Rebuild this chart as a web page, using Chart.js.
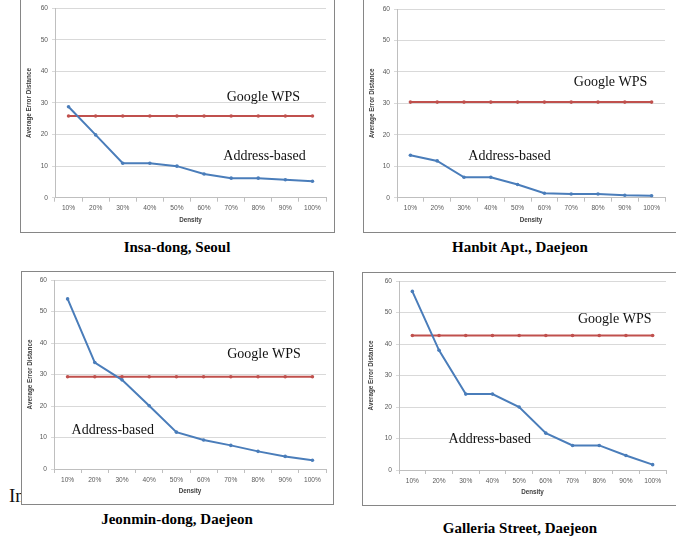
<!doctype html>
<html lang="en">
<head>
<meta charset="utf-8">
<title>Average Error Distance by Density</title>
<script src="https://cdn.jsdelivr.net/npm/chart.js@4.4.1/dist/chart.umd.min.js"></script>
<style>
  * { box-sizing: content-box; }
  html, body { margin: 0; padding: 0; background: #fff; }
  body { position: relative; width: 676px; height: 536px; overflow: hidden; }
  .frame { position: absolute; border: 1px solid #868686; background: #fff; z-index: 2; }
  .frame canvas { position: absolute; left: 0; top: 0; }
  .caption {
    position: absolute;
    width: 300px;
    margin-left: -150px;
    text-align: center;
    font: bold 15px 'Liberation Serif', 'Times New Roman', serif;
    color: #000;
    line-height: 18px;
    margin-top: -9px;
  }
  .stray {
    position: absolute;
    left: 9px;
    top: 485px;
    font: 19px 'Liberation Serif', 'Times New Roman', serif;
    line-height: 22px;
    color: #111;
    z-index: 1;
  }
</style>
</head>
<body>
<div class="stray">In</div>
<div class="caption" style="left:177px; top:247px;">Insa-dong, Seoul</div>
<div class="caption" style="left:520px; top:247px;">Hanbit Apt., Daejeon</div>
<div class="caption" style="left:177px; top:519px;">Jeonmin-dong, Daejeon</div>
<div class="caption" style="left:520px; top:528px;">Galleria Street, Daejeon</div>
<script>
// values
const densityLabels = ['10%', '20%', '30%', '40%', '50%', '60%', '70%', '80%', '90%', '100%'];
const yTicks = [0, 10, 20, 30, 40, 50, 60];

const insaAddress = [28.8, 19.9, 10.9, 10.9, 10.0, 7.5, 6.2, 6.2, 5.7, 5.2];
const insaWps = [25.9, 25.9, 25.9, 25.9, 25.9, 25.9, 25.9, 25.9, 25.9, 25.9];

const hanbitAddress = [13.5, 11.7, 6.5, 6.5, 4.2, 1.4, 1.2, 1.2, 0.8, 0.6];
const hanbitWps = [30.4, 30.4, 30.4, 30.4, 30.4, 30.4, 30.4, 30.4, 30.4, 30.4];

const jeonminAddress = [54.0, 33.8, 28.3, 20.1, 11.7, 9.2, 7.5, 5.6, 4.0, 2.8];
const jeonminWps = [29.3, 29.3, 29.3, 29.3, 29.3, 29.3, 29.3, 29.3, 29.3, 29.3];

const galleriaAddress = [56.7, 38.0, 24.1, 24.1, 20.0, 11.7, 7.8, 7.8, 4.6, 1.7];
const galleriaWps = [42.7, 42.7, 42.7, 42.7, 42.7, 42.7, 42.7, 42.7, 42.7, 42.7];

const BLUE = '#4a7dba';
const RED = '#c0504d';
const tickFont = { family: "'Liberation Sans', Arial, sans-serif", size: 6.6 };
const titleFont = { family: "'Liberation Sans', Arial, sans-serif", size: 6.3, weight: 'bold' };

function makePanel(p) {
  const [fl, ft, fr, fb] = p.frame;
  const w = fr - fl - 1;
  const h = fb - ft - 1;
  const frame = document.createElement('div');
  frame.className = 'frame';
  frame.style.left = fl + 'px';
  frame.style.top = ft + 'px';
  frame.style.width = w + 'px';
  frame.style.height = h + 'px';
  const canvas = document.createElement('canvas');
  canvas.width = w;
  canvas.height = h;
  canvas.style.width = w + 'px';
  canvas.style.height = h + 'px';
  frame.appendChild(canvas);
  document.body.appendChild(frame);

  const ox = fl + 1, oy = ft + 1;
  const [pl, pt, pr, pb] = p.plot;
  const yw = pl - ox;
  const xh = 26;

  // in-plot series names, placed in data coordinates
  const seriesNames = {
    id: 'seriesNames',
    afterDatasetsDraw(chart) {
      const ctx = chart.ctx;
      const xs = chart.scales.x, ys = chart.scales.y;
      ctx.save();
      ctx.font = "14px 'Liberation Serif', 'Times New Roman', serif";
      ctx.fillStyle = '#111';
      ctx.textAlign = 'center';
      ctx.textBaseline = 'middle';
      p.names.forEach(function (n) {
        ctx.fillText(n.text, xs.getPixelForValue(n.at[0]), ys.getPixelForValue(n.at[1]));
      });
      ctx.restore();
    },
  };

  const line = (label, data, color) => ({
    label: label,
    data: data,
    borderColor: color,
    backgroundColor: color,
    borderWidth: 2,
    pointRadius: 1.8,
    pointHoverRadius: 1.8,
    pointBorderWidth: 0,
    tension: 0,
  });

  new Chart(canvas.getContext('2d'), {
    type: 'line',
    data: {
      labels: densityLabels,
      datasets: [
        line('Address-based', p.address, BLUE),
        line('Google WPS', p.wps, RED),
      ],
    },
    options: {
      responsive: false,
      animation: false,
      events: [],
      layout: { padding: { left: 0, top: pt - oy, right: ox + w - pr, bottom: oy + h - pb - xh } },
      plugins: { legend: { display: false }, tooltip: { enabled: false } },
      scales: {
        x: {
          offset: true,
          grid: { offset: true, drawOnChartArea: false, tickLength: 4, color: '#bfbfbf' },
          border: { color: '#bfbfbf' },
          ticks: { font: tickFont, color: '#595959', padding: 3, maxRotation: 0, autoSkip: false },
          title: { display: true, text: 'Density', font: titleFont, color: '#404040', padding: 0 },
          afterFit: (s) => { s.height = xh; },
        },
        y: {
          min: 0,
          max: 60,
          afterBuildTicks: (s) => { s.ticks = yTicks.map((v) => ({ value: v })); },
          grid: { color: '#d9d9d9', tickLength: 3 },
          border: { color: '#bfbfbf' },
          ticks: { font: tickFont, color: '#595959', padding: 4 },
          title: { display: true, text: 'Average Error Distance', font: titleFont, color: '#404040', padding: { top: 4, bottom: 0 } },
          afterFit: (s) => { s.width = yw; },
        },
      },
    },
    plugins: [seriesNames],
  });
}

makePanel({
  frame: [20, -2, 334, 232], plot: [55, 8.3, 326, 197.7],
  address: insaAddress, wps: insaWps,
  names: [{ text: 'Google WPS', at: [7.19, 31.8] }, { text: 'Address-based', at: [7.23, 13.2] }],
});
makePanel({
  frame: [363, -2, 676, 232], plot: [397, 9, 665, 197.7],
  address: hanbitAddress, wps: hanbitWps,
  names: [{ text: 'Google WPS', at: [7.47, 36.8] }, { text: 'Address-based', at: [3.7, 13.3] }],
});
makePanel({
  frame: [21, 271, 333, 504], plot: [54, 280, 326, 469],
  address: jeonminAddress, wps: jeonminWps,
  names: [{ text: 'Google WPS', at: [7.22, 36.3] }, { text: 'Address-based', at: [1.66, 12.2] }],
});
makePanel({
  frame: [362, 272, 677, 505], plot: [399, 281, 666, 470],
  address: galleriaAddress, wps: galleriaWps,
  names: [{ text: 'Google WPS', at: [7.58, 47.7] }, { text: 'Address-based', at: [2.9, 9.6] }],
});
</script>
</body>
</html>
